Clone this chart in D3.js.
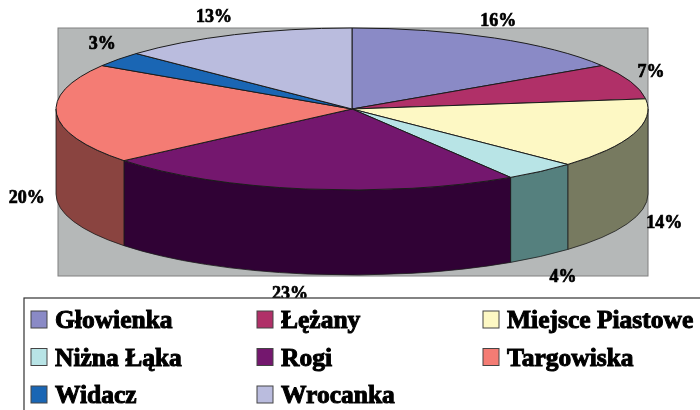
<!DOCTYPE html>
<html>
<head>
<meta charset="utf-8">
<script src="https://cdn.jsdelivr.net/npm/d3@7"></script>
<style>
    html, body { margin: 0; padding: 0; background: #fff; }
    svg { display: block; filter: blur(0.5px); }
    text { font-family: "Liberation Serif", serif; font-weight: bold; fill: #000; stroke: #000; }
</style>
</head>
<body>
<div class="chart"></div>
<script>
    const names = ["Głowienka", "Łężany", "Miejsce Piastowe", "Niżna Łąka", "Rogi", "Targowiska", "Widacz", "Wrocanka"]
    const shares = [16, 7, 14, 4, 23, 20, 3, 13]
    const topColors = ["#8a8ac6", "#b03068", "#fdf8c4", "#b8e4e6", "#74176e", "#f47c74", "#1a66b4", "#babcde"]
    const wallColors = ["#45456a", "#581834", "#777a60", "#55807e", "#300235", "#8a4440", "#0d335a", "#5d5e6f"]

    const outerWidth = 700
    const outerHeight = 410
    const plot = {left: 58, top: 28, right: 648, bottom: 276}
    const cx = 352, cy = 109
    const rx = 296, ry = 81
    const depth = 85

    // Hand placed offsets for the percent labels
    const nudgeX = [-8, -2, 8, 7, -12, -6, 3, -11]
    const nudgeY = [-1, -4, -3, 5, 0, -3, -5, -1]

    const svg = d3.select(".chart")
        .append("svg")
        .attr("width", outerWidth)
        .attr("height", outerHeight)

    // Grey plot area
    svg.append("rect")
        .attr("x", plot.left)
        .attr("y", plot.top)
        .attr("width", plot.right - plot.left)
        .attr("height", plot.bottom - plot.top)
        .attr("fill", "#b5b8b8")
        .attr("stroke", "#808080")

    const slices = d3.pie().sort(null)(shares)

    const ex = a => cx + rx * Math.sin(a)
    const ey = a => cy - ry * Math.cos(a)

    // Side walls, only the part of a slice on the front half
    const wallPath = d => {
        const a0 = Math.max(d.startAngle, Math.PI / 2)
        const a1 = Math.min(d.endAngle, Math.PI * 3 / 2)
        if (a1 <= a0) return null
        return `M${ex(a0)},${ey(a0)}A${rx},${ry} 0 0 1 ${ex(a1)},${ey(a1)}` +
            `L${ex(a1)},${ey(a1) + depth}A${rx},${ry} 0 0 0 ${ex(a0)},${ey(a0) + depth}Z`
    }

    svg.append("g")
        .selectAll("path")
        .data(slices)
        .enter()
        .append("path")
        .attr("d", wallPath)
        .attr("fill", (d, i) => wallColors[i])
        .attr("stroke", "#1c1c1c")
        .attr("stroke-width", 0.8)

    // Top of the pie, a flattened d3 arc
    const arc = d3.arc().innerRadius(0).outerRadius(rx)

    svg.append("g")
        .attr("transform", `translate(${cx}, ${cy}) scale(1, ${ry / rx})`)
        .selectAll("path")
        .data(slices)
        .enter()
        .append("path")
        .attr("d", arc)
        .attr("fill", (d, i) => topColors[i])
        .attr("stroke", "#1c1c1c")
        .attr("stroke-width", 1)
        .attr("vector-effect", "non-scaling-stroke")

    // Percent labels
    const midAngle = d => (d.startAngle + d.endAngle) / 2

    svg.append("g")
        .selectAll("text")
        .data(slices)
        .enter()
        .append("text")
        .attr("x", (d, i) => cx + (rx + 24) * Math.sin(midAngle(d)) + nudgeX[i])
        .attr("y", (d, i) => {
            const c = Math.cos(midAngle(d))
            return cy - (ry + 19) * c + (c < 0 ? depth : 0) + 6 + nudgeY[i]
        })
        .attr("text-anchor", "middle")
        .attr("font-size", 18)
        .attr("stroke-width", 0.7)
        .text(d => d.value + "%")

    // Legend
    const legend = svg.append("g")

    legend.append("rect")
        .attr("x", 24)
        .attr("y", 298)
        .attr("width", 700)
        .attr("height", 150)
        .attr("fill", "#fff")
        .attr("stroke", "#333")
        .attr("stroke-width", 1.2)

    const colScale = d3.scalePoint().domain([0, 1, 2]).range([31, 483])
    const rowScale = d3.scalePoint().domain([0, 1, 2]).range([320, 395])

    const items = legend.selectAll("g")
        .data(names)
        .enter()
        .append("g")
        .attr("transform", (d, i) => `translate(${colScale(i % 3)}, ${rowScale(Math.floor(i / 3))})`)

    items.append("rect")
        .attr("y", -9)
        .attr("width", 16)
        .attr("height", 17)
        .attr("fill", (d, i) => topColors[i])
        .attr("stroke", "#444")

    items.append("text")
        .attr("x", 24)
        .attr("y", 8)
        .attr("font-size", 25.5)
        .attr("stroke-width", 1)
        .text(d => d)
</script>
</body>
</html>
